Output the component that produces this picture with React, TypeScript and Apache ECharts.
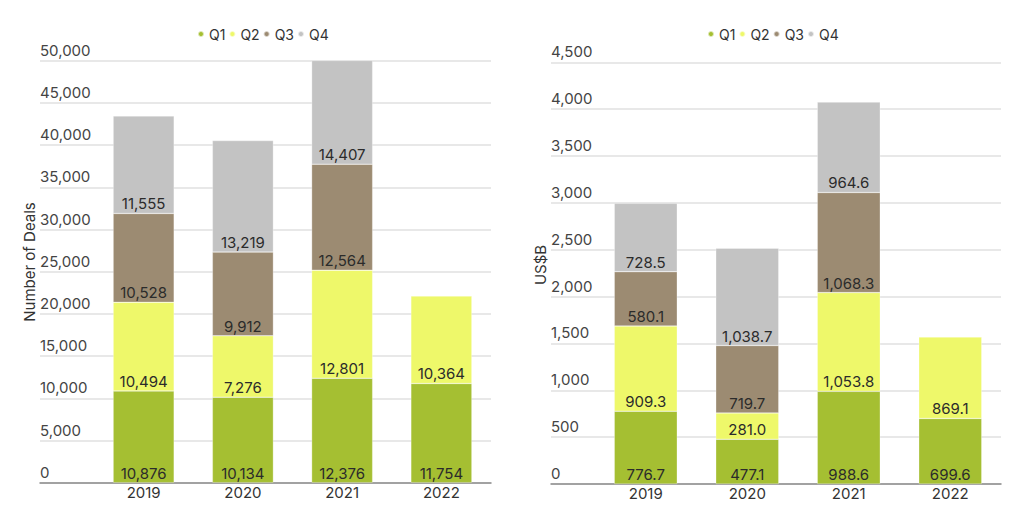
import React, { useEffect, useRef } from "react";
import * as echarts from "echarts";

const years = ["2019", "2020", "2021", "2022"];
const quarters = ["Q1", "Q2", "Q3", "Q4"];
const dealsQ1 = [10876, 10134, 12376, 11754];
const dealsQ2 = [10494, 7276, 12801, 10364];
const dealsQ3 = [10528, 9912, 12564, null];
const dealsQ4 = [11555, 13219, 14407, null];
const valueQ1 = [776.7, 477.1, 988.6, 699.6];
const valueQ2 = [909.3, 281.0, 1053.8, 869.1];
const valueQ3 = [580.1, 719.7, 1068.3, null];
const valueQ4 = [728.5, 1038.7, 964.6, null];
const colors = ["#a5bf32", "#eef86a", "#9c8b72", "#c3c3c3"];

const FONT = "Inter, 'Noto Sans', sans-serif";

const fmtInt = (v: number) => v.toLocaleString("en-US", { maximumFractionDigits: 0 });
const fmt1 = (v: number) =>
  v.toLocaleString("en-US", { minimumFractionDigits: 1, maximumFractionDigits: 1 });

export default function App() {
  const ref = useRef<HTMLDivElement>(null);
  useEffect(() => {
    document.body.style.margin = "0";
    const chart = echarts.init(ref.current!, null, { renderer: "svg" });

    const yAxisLabel = (f: (v: number) => string) => ({
      inside: true,
      align: "left" as const,
      verticalAlign: "bottom" as const,
      margin: 0,
      padding: [0, 0, 3, 0],
      color: "#444",
      fontSize: 15,
      fontFamily: FONT,
      formatter: (v: number) => f(v),
    });

    const makeSeries = (
      data: (number | null)[][],
      xIdx: number,
      yIdx: number,
      stack: string,
      f: (v: number) => string
    ) =>
      data.map((d, i) => ({
        type: "bar",
        name: quarters[i],
        stack,
        xAxisIndex: xIdx,
        yAxisIndex: yIdx,
        data: d,
        barWidth: xIdx === 1 ? 61 : 63,
        clip: true,
        itemStyle: { color: colors[i], borderColor: "rgba(255,255,255,0.6)", borderWidth: 0.5 },
        label: {
          show: true,
          position: "insideBottom",
          distance: 2,
          color: "#2b2b2b",
          fontSize: 15,
          fontFamily: FONT,
          formatter: (p: any) => (p.value == null ? "" : f(p.value)),
        },
      }));

    const legendBase = {
      data: quarters,
      icon: "circle",
      itemWidth: 6,
      itemHeight: 6,
      itemGap: 3,
      top: 22,
      textStyle: { fontSize: 14, color: "#333", fontFamily: FONT },
    };

    chart.setOption({
      animation: false,
      color: colors,
      legend: [
        { ...legendBase, left: 192 },
        { ...legendBase, left: 702 },
      ],
      grid: [
        { left: 40, top: 60.7, width: 451, height: 422 },
        { left: 94, top: 60.7, width: 397, height: 422 },
        { left: 551, top: 62.3, width: 450, height: 421.7 },
        { left: 595, top: 62.3, width: 406, height: 421.7 },
      ],
      xAxis: [
        {
          type: "category",
          gridIndex: 0,
          data: [""],
          axisLine: { show: true, lineStyle: { color: "#8a8a8a", width: 1.5 } },
          axisTick: { show: false },
          axisLabel: { show: false },
        },
        {
          type: "category",
          gridIndex: 1,
          data: years,
          axisLine: { show: false },
          axisTick: { show: false },
          axisLabel: { color: "#333", fontSize: 15, fontFamily: FONT, margin: 2 },
        },
        {
          type: "category",
          gridIndex: 2,
          data: [""],
          axisLine: { show: true, lineStyle: { color: "#8a8a8a", width: 1.5 } },
          axisTick: { show: false },
          axisLabel: { show: false },
        },
        {
          type: "category",
          gridIndex: 3,
          data: years,
          axisLine: { show: false },
          axisTick: { show: false },
          axisLabel: { color: "#333", fontSize: 15, fontFamily: FONT, margin: 2 },
        },
      ],
      yAxis: [
        {
          type: "value",
          gridIndex: 0,
          min: 0,
          max: 50000,
          interval: 5000,
          axisLine: { show: false },
          axisTick: { show: false },
          axisLabel: yAxisLabel(fmtInt),
          splitLine: { lineStyle: { color: "#e0e0e0", width: 1.5 } },
        },
        { type: "value", gridIndex: 1, min: 0, max: 50000, show: false, splitLine: { show: false } },
        {
          type: "value",
          gridIndex: 2,
          min: 0,
          max: 4500,
          interval: 500,
          axisLine: { show: false },
          axisTick: { show: false },
          axisLabel: yAxisLabel(fmtInt),
          splitLine: { lineStyle: { color: "#e0e0e0", width: 1.5 } },
        },
        { type: "value", gridIndex: 3, min: 0, max: 4500, show: false, splitLine: { show: false } },
      ],
      graphic: [
        {
          type: "text",
          x: 29,
          y: 262,
          rotation: Math.PI / 2,
          style: {
            text: "Number of Deals",
            fontSize: 15,
            fontFamily: FONT,
            fill: "#333",
            align: "center",
            verticalAlign: "middle",
          },
        },
        {
          type: "text",
          x: 540,
          y: 265,
          rotation: Math.PI / 2,
          style: {
            text: "US$B",
            fontSize: 15,
            fontFamily: FONT,
            fill: "#333",
            align: "center",
            verticalAlign: "middle",
          },
        },
      ],
      series: [
        ...makeSeries([dealsQ1, dealsQ2, dealsQ3, dealsQ4], 1, 1, "deals", fmtInt),
        ...makeSeries([valueQ1, valueQ2, valueQ3, valueQ4], 3, 3, "value", fmt1),
      ],
    });
    return () => chart.dispose();
  }, []);
  return <div ref={ref} style={{ width: 1024, height: 507 }} />;
}
